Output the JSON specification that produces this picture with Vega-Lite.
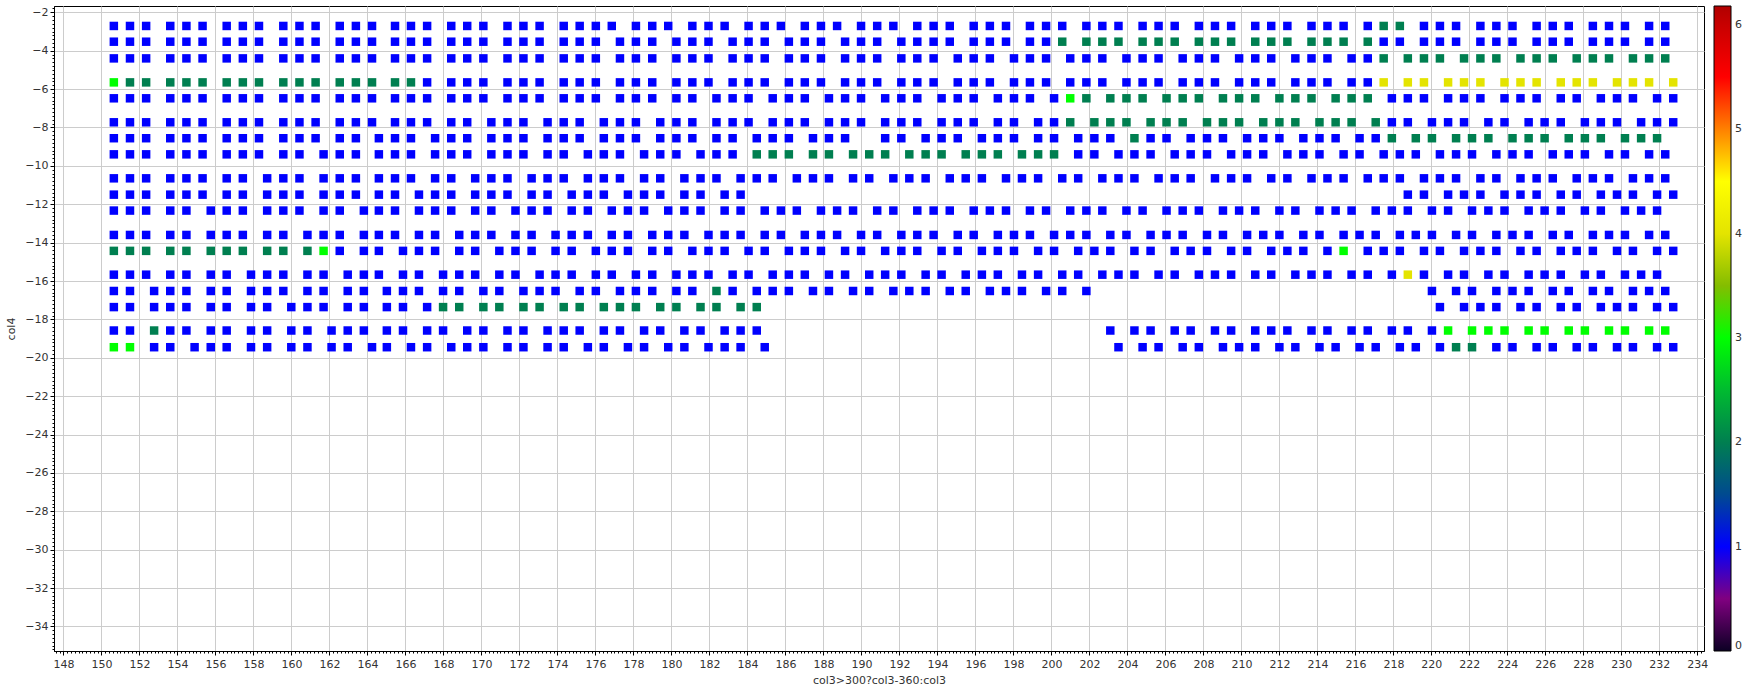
{
"$schema":"https://vega.github.io/schema/vega-lite/v6.json",
"autosize":{"type":"none"},
"padding":{"left":54,"top":6,"right":52,"bottom":41},
"width":1650,"height":645,
"background":"white",
"config":{"view":{"stroke":"black","strokeWidth":1},"font":"DejaVu Sans",
"axis":{"labelFont":"DejaVu Sans","labelFontSize":11,"labelColor":"#333333","titleFont":"DejaVu Sans","titleFontSize":11,"titleFontWeight":"normal","titleColor":"#333333","domainColor":"black","tickColor":"black","gridColor":"#cccccc","gridWidth":1}},
"datasets":{"pts":[
{"x":150.65,"y":-2.71,"v":1},{"x":151.50,"y":-2.71,"v":1},{"x":152.35,"y":-2.71,"v":1},{"x":153.62,"y":-2.71,"v":1},{"x":154.47,"y":-2.71,"v":1},{"x":155.32,"y":-2.71,"v":1},{"x":156.59,"y":-2.71,"v":1},{"x":157.44,"y":-2.71,"v":1},{"x":158.29,"y":-2.71,"v":1},{"x":159.57,"y":-2.71,"v":1},{"x":160.42,"y":-2.71,"v":1},{"x":161.27,"y":-2.71,"v":1},{"x":162.54,"y":-2.71,"v":1},{"x":163.39,"y":-2.71,"v":1},{"x":164.24,"y":-2.71,"v":1},
{"x":165.45,"y":-2.71,"v":1},{"x":166.29,"y":-2.71,"v":1},{"x":167.14,"y":-2.71,"v":1},{"x":168.41,"y":-2.71,"v":1},{"x":169.25,"y":-2.71,"v":1},{"x":170.10,"y":-2.71,"v":1},{"x":171.37,"y":-2.71,"v":1},{"x":172.21,"y":-2.71,"v":1},{"x":173.06,"y":-2.71,"v":1},{"x":174.33,"y":-2.71,"v":1},{"x":175.17,"y":-2.71,"v":1},{"x":176.02,"y":-2.71,"v":1},{"x":176.86,"y":-2.71,"v":1},{"x":178.13,"y":-2.71,"v":1},
{"x":178.99,"y":-2.71,"v":1},{"x":179.83,"y":-2.71,"v":1},{"x":181.10,"y":-2.71,"v":1},{"x":181.95,"y":-2.71,"v":1},{"x":182.80,"y":-2.71,"v":1},{"x":184.06,"y":-2.71,"v":1},{"x":184.91,"y":-2.71,"v":1},{"x":185.76,"y":-2.71,"v":1},{"x":187.02,"y":-2.71,"v":1},{"x":187.87,"y":-2.71,"v":1},{"x":188.72,"y":-2.71,"v":1},{"x":189.98,"y":-2.71,"v":1},{"x":190.83,"y":-2.71,"v":1},{"x":191.68,"y":-2.71,"v":1},{"x":192.94,"y":-2.71,"v":1},
{"x":193.80,"y":-2.71,"v":1},{"x":194.65,"y":-2.71,"v":1},{"x":195.91,"y":-2.71,"v":1},{"x":196.76,"y":-2.71,"v":1},{"x":197.61,"y":-2.71,"v":1},{"x":198.87,"y":-2.71,"v":1},{"x":199.72,"y":-2.71,"v":1},{"x":200.57,"y":-2.71,"v":1},{"x":201.84,"y":-2.71,"v":1},{"x":202.68,"y":-2.71,"v":1},{"x":203.53,"y":-2.71,"v":1},{"x":204.80,"y":-2.71,"v":1},{"x":205.64,"y":-2.71,"v":1},{"x":206.49,"y":-2.71,"v":1},{"x":207.76,"y":-2.71,"v":1},
{"x":208.61,"y":-2.71,"v":1},{"x":209.46,"y":-2.71,"v":1},{"x":210.73,"y":-2.71,"v":1},{"x":211.57,"y":-2.71,"v":1},{"x":212.42,"y":-2.71,"v":1},{"x":213.69,"y":-2.71,"v":1},{"x":214.53,"y":-2.71,"v":1},{"x":215.38,"y":-2.71,"v":1},{"x":216.65,"y":-2.71,"v":1},{"x":217.49,"y":-2.71,"v":2},{"x":218.34,"y":-2.71,"v":2},{"x":219.61,"y":-2.71,"v":1},{"x":220.45,"y":-2.71,"v":1},{"x":221.30,"y":-2.71,"v":1},
{"x":222.58,"y":-2.71,"v":1},{"x":223.42,"y":-2.71,"v":1},{"x":224.27,"y":-2.71,"v":1},{"x":225.54,"y":-2.71,"v":1},{"x":226.39,"y":-2.71,"v":1},{"x":227.23,"y":-2.71,"v":1},{"x":228.50,"y":-2.71,"v":1},{"x":229.35,"y":-2.71,"v":1},{"x":230.19,"y":-2.71,"v":1},{"x":231.46,"y":-2.71,"v":1},{"x":232.31,"y":-2.71,"v":1},

{"x":150.65,"y":-3.53,"v":1},{"x":151.50,"y":-3.53,"v":1},{"x":152.35,"y":-3.53,"v":1},{"x":153.62,"y":-3.53,"v":1},{"x":154.47,"y":-3.53,"v":1},{"x":155.32,"y":-3.53,"v":1},{"x":156.59,"y":-3.53,"v":1},{"x":157.44,"y":-3.53,"v":1},{"x":158.29,"y":-3.53,"v":1},{"x":159.57,"y":-3.53,"v":1},{"x":160.42,"y":-3.53,"v":1},{"x":161.27,"y":-3.53,"v":1},{"x":162.54,"y":-3.53,"v":1},{"x":163.39,"y":-3.53,"v":1},{"x":164.24,"y":-3.53,"v":1},
{"x":165.45,"y":-3.53,"v":1},{"x":166.29,"y":-3.53,"v":1},{"x":167.14,"y":-3.53,"v":1},{"x":168.41,"y":-3.53,"v":1},{"x":169.25,"y":-3.53,"v":1},{"x":170.10,"y":-3.53,"v":1},{"x":171.37,"y":-3.53,"v":1},{"x":172.21,"y":-3.53,"v":1},{"x":173.06,"y":-3.53,"v":1},{"x":174.33,"y":-3.53,"v":1},{"x":175.17,"y":-3.53,"v":1},{"x":176.02,"y":-3.53,"v":1},{"x":177.29,"y":-3.53,"v":1},{"x":178.13,"y":-3.53,"v":1},
{"x":178.99,"y":-3.53,"v":1},{"x":180.26,"y":-3.53,"v":1},{"x":181.10,"y":-3.53,"v":1},{"x":181.95,"y":-3.53,"v":1},{"x":183.22,"y":-3.53,"v":1},{"x":184.06,"y":-3.53,"v":1},{"x":184.91,"y":-3.53,"v":1},{"x":186.18,"y":-3.53,"v":1},{"x":187.02,"y":-3.53,"v":1},{"x":187.87,"y":-3.53,"v":1},{"x":189.14,"y":-3.53,"v":1},{"x":189.98,"y":-3.53,"v":1},{"x":190.83,"y":-3.53,"v":1},{"x":192.10,"y":-3.53,"v":1},{"x":192.94,"y":-3.53,"v":1},
{"x":193.80,"y":-3.53,"v":1},{"x":194.65,"y":-3.53,"v":1},{"x":195.91,"y":-3.53,"v":1},{"x":196.76,"y":-3.53,"v":1},{"x":197.61,"y":-3.53,"v":1},{"x":198.87,"y":-3.53,"v":1},{"x":199.72,"y":-3.53,"v":1},{"x":200.57,"y":-3.53,"v":2},{"x":201.84,"y":-3.53,"v":2},{"x":202.68,"y":-3.53,"v":2},{"x":203.53,"y":-3.53,"v":2},{"x":204.80,"y":-3.53,"v":2},{"x":205.64,"y":-3.53,"v":2},{"x":206.49,"y":-3.53,"v":2},{"x":207.76,"y":-3.53,"v":2},
{"x":208.61,"y":-3.53,"v":2},{"x":209.46,"y":-3.53,"v":2},{"x":210.73,"y":-3.53,"v":2},{"x":211.57,"y":-3.53,"v":2},{"x":212.42,"y":-3.53,"v":2},{"x":213.69,"y":-3.53,"v":2},{"x":214.53,"y":-3.53,"v":2},{"x":215.38,"y":-3.53,"v":2},{"x":216.65,"y":-3.53,"v":2},{"x":217.49,"y":-3.53,"v":1},{"x":218.34,"y":-3.53,"v":1},{"x":219.61,"y":-3.53,"v":1},{"x":220.45,"y":-3.53,"v":1},{"x":221.30,"y":-3.53,"v":1},
{"x":222.58,"y":-3.53,"v":1},{"x":223.42,"y":-3.53,"v":1},{"x":224.27,"y":-3.53,"v":1},{"x":225.54,"y":-3.53,"v":1},{"x":226.39,"y":-3.53,"v":1},{"x":227.23,"y":-3.53,"v":1},{"x":228.50,"y":-3.53,"v":1},{"x":229.35,"y":-3.53,"v":1},{"x":230.19,"y":-3.53,"v":1},{"x":231.46,"y":-3.53,"v":1},{"x":232.31,"y":-3.53,"v":1},

{"x":150.65,"y":-4.4,"v":1},{"x":151.50,"y":-4.4,"v":1},{"x":152.35,"y":-4.4,"v":1},{"x":153.62,"y":-4.4,"v":1},{"x":154.47,"y":-4.4,"v":1},{"x":155.32,"y":-4.4,"v":1},{"x":156.59,"y":-4.4,"v":1},{"x":157.44,"y":-4.4,"v":1},{"x":158.29,"y":-4.4,"v":1},{"x":159.57,"y":-4.4,"v":1},{"x":160.42,"y":-4.4,"v":1},{"x":161.27,"y":-4.4,"v":1},{"x":162.54,"y":-4.4,"v":1},{"x":163.39,"y":-4.4,"v":1},{"x":164.24,"y":-4.4,"v":1},
{"x":165.45,"y":-4.4,"v":1},{"x":166.29,"y":-4.4,"v":1},{"x":167.14,"y":-4.4,"v":1},{"x":168.41,"y":-4.4,"v":1},{"x":169.25,"y":-4.4,"v":1},{"x":170.10,"y":-4.4,"v":1},{"x":171.37,"y":-4.4,"v":1},{"x":172.21,"y":-4.4,"v":1},{"x":173.06,"y":-4.4,"v":1},{"x":174.33,"y":-4.4,"v":1},{"x":175.17,"y":-4.4,"v":1},{"x":176.02,"y":-4.4,"v":1},{"x":177.29,"y":-4.4,"v":1},{"x":178.13,"y":-4.4,"v":1},
{"x":178.99,"y":-4.4,"v":1},{"x":180.26,"y":-4.4,"v":1},{"x":181.10,"y":-4.4,"v":1},{"x":181.95,"y":-4.4,"v":1},{"x":183.22,"y":-4.4,"v":1},{"x":184.06,"y":-4.4,"v":1},{"x":184.91,"y":-4.4,"v":1},{"x":186.18,"y":-4.4,"v":1},{"x":187.02,"y":-4.4,"v":1},{"x":187.87,"y":-4.4,"v":1},{"x":189.14,"y":-4.4,"v":1},{"x":189.98,"y":-4.4,"v":1},{"x":190.83,"y":-4.4,"v":1},{"x":192.10,"y":-4.4,"v":1},{"x":192.94,"y":-4.4,"v":1},
{"x":193.80,"y":-4.4,"v":1},{"x":195.07,"y":-4.4,"v":1},{"x":195.91,"y":-4.4,"v":1},{"x":196.76,"y":-4.4,"v":1},{"x":198.03,"y":-4.4,"v":1},{"x":198.87,"y":-4.4,"v":1},{"x":199.72,"y":-4.4,"v":1},{"x":200.99,"y":-4.4,"v":1},{"x":201.84,"y":-4.4,"v":1},{"x":202.68,"y":-4.4,"v":1},{"x":203.95,"y":-4.4,"v":1},{"x":204.80,"y":-4.4,"v":1},{"x":205.64,"y":-4.4,"v":1},{"x":206.91,"y":-4.4,"v":1},{"x":207.76,"y":-4.4,"v":1},
{"x":208.61,"y":-4.4,"v":1},{"x":209.88,"y":-4.4,"v":1},{"x":210.73,"y":-4.4,"v":1},{"x":211.57,"y":-4.4,"v":1},{"x":212.84,"y":-4.4,"v":1},{"x":213.69,"y":-4.4,"v":1},{"x":214.53,"y":-4.4,"v":1},{"x":215.80,"y":-4.4,"v":1},{"x":216.65,"y":-4.4,"v":1},{"x":217.49,"y":-4.4,"v":2},{"x":218.76,"y":-4.4,"v":2},{"x":219.61,"y":-4.4,"v":2},{"x":220.45,"y":-4.4,"v":2},{"x":221.72,"y":-4.4,"v":2},
{"x":222.58,"y":-4.4,"v":2},{"x":223.42,"y":-4.4,"v":2},{"x":224.69,"y":-4.4,"v":2},{"x":225.54,"y":-4.4,"v":2},{"x":226.39,"y":-4.4,"v":2},{"x":227.65,"y":-4.4,"v":2},{"x":228.50,"y":-4.4,"v":2},{"x":229.35,"y":-4.4,"v":2},{"x":230.61,"y":-4.4,"v":2},{"x":231.46,"y":-4.4,"v":2},{"x":232.31,"y":-4.4,"v":2},

{"x":150.65,"y":-5.65,"v":3},{"x":151.50,"y":-5.65,"v":2},{"x":152.35,"y":-5.65,"v":2},{"x":153.62,"y":-5.65,"v":2},{"x":154.47,"y":-5.65,"v":2},{"x":155.32,"y":-5.65,"v":2},{"x":156.59,"y":-5.65,"v":2},{"x":157.44,"y":-5.65,"v":2},{"x":158.29,"y":-5.65,"v":2},{"x":159.57,"y":-5.65,"v":2},{"x":160.42,"y":-5.65,"v":2},{"x":161.27,"y":-5.65,"v":2},{"x":162.54,"y":-5.65,"v":2},{"x":163.39,"y":-5.65,"v":2},{"x":164.24,"y":-5.65,"v":2},
{"x":165.45,"y":-5.65,"v":2},{"x":166.29,"y":-5.65,"v":2},{"x":167.14,"y":-5.65,"v":1},{"x":168.41,"y":-5.65,"v":1},{"x":169.25,"y":-5.65,"v":1},{"x":170.10,"y":-5.65,"v":1},{"x":171.37,"y":-5.65,"v":1},{"x":172.21,"y":-5.65,"v":1},{"x":173.06,"y":-5.65,"v":1},{"x":174.33,"y":-5.65,"v":1},{"x":175.17,"y":-5.65,"v":1},{"x":176.02,"y":-5.65,"v":1},{"x":177.29,"y":-5.65,"v":1},{"x":178.13,"y":-5.65,"v":1},
{"x":178.99,"y":-5.65,"v":1},{"x":180.26,"y":-5.65,"v":1},{"x":181.10,"y":-5.65,"v":1},{"x":181.95,"y":-5.65,"v":1},{"x":183.22,"y":-5.65,"v":1},{"x":184.06,"y":-5.65,"v":1},{"x":184.91,"y":-5.65,"v":1},{"x":186.18,"y":-5.65,"v":1},{"x":187.02,"y":-5.65,"v":1},{"x":187.87,"y":-5.65,"v":1},{"x":189.14,"y":-5.65,"v":1},{"x":189.98,"y":-5.65,"v":1},{"x":190.83,"y":-5.65,"v":1},{"x":192.10,"y":-5.65,"v":1},{"x":192.94,"y":-5.65,"v":1},
{"x":193.80,"y":-5.65,"v":1},{"x":195.07,"y":-5.65,"v":1},{"x":195.91,"y":-5.65,"v":1},{"x":196.76,"y":-5.65,"v":1},{"x":198.03,"y":-5.65,"v":1},{"x":198.87,"y":-5.65,"v":1},{"x":199.72,"y":-5.65,"v":1},{"x":200.99,"y":-5.65,"v":1},{"x":201.84,"y":-5.65,"v":1},{"x":202.68,"y":-5.65,"v":1},{"x":203.95,"y":-5.65,"v":1},{"x":204.80,"y":-5.65,"v":1},{"x":205.64,"y":-5.65,"v":1},{"x":206.91,"y":-5.65,"v":1},{"x":207.76,"y":-5.65,"v":1},
{"x":208.61,"y":-5.65,"v":1},{"x":209.88,"y":-5.65,"v":1},{"x":210.73,"y":-5.65,"v":1},{"x":211.57,"y":-5.65,"v":1},{"x":212.84,"y":-5.65,"v":1},{"x":213.69,"y":-5.65,"v":1},{"x":214.53,"y":-5.65,"v":1},{"x":215.80,"y":-5.65,"v":1},{"x":216.65,"y":-5.65,"v":1},{"x":217.49,"y":-5.65,"v":4},{"x":218.76,"y":-5.65,"v":4},{"x":219.61,"y":-5.65,"v":4},{"x":220.88,"y":-5.65,"v":4},{"x":221.72,"y":-5.65,"v":4},
{"x":222.58,"y":-5.65,"v":4},{"x":223.85,"y":-5.65,"v":4},{"x":224.69,"y":-5.65,"v":4},{"x":225.54,"y":-5.65,"v":4},{"x":226.81,"y":-5.65,"v":4},{"x":227.65,"y":-5.65,"v":4},{"x":228.50,"y":-5.65,"v":4},{"x":229.77,"y":-5.65,"v":4},{"x":230.61,"y":-5.65,"v":4},{"x":231.46,"y":-5.65,"v":4},{"x":232.73,"y":-5.65,"v":4},

{"x":150.65,"y":-6.48,"v":1},{"x":151.50,"y":-6.48,"v":1},{"x":152.35,"y":-6.48,"v":1},{"x":153.62,"y":-6.48,"v":1},{"x":154.47,"y":-6.48,"v":1},{"x":155.32,"y":-6.48,"v":1},{"x":156.59,"y":-6.48,"v":1},{"x":157.44,"y":-6.48,"v":1},{"x":158.29,"y":-6.48,"v":1},{"x":159.57,"y":-6.48,"v":1},{"x":160.42,"y":-6.48,"v":1},{"x":161.27,"y":-6.48,"v":1},{"x":162.54,"y":-6.48,"v":1},{"x":163.39,"y":-6.48,"v":1},{"x":164.24,"y":-6.48,"v":1},
{"x":165.45,"y":-6.48,"v":1},{"x":166.29,"y":-6.48,"v":1},{"x":167.14,"y":-6.48,"v":1},{"x":168.41,"y":-6.48,"v":1},{"x":169.25,"y":-6.48,"v":1},{"x":170.10,"y":-6.48,"v":1},{"x":171.37,"y":-6.48,"v":1},{"x":172.21,"y":-6.48,"v":1},{"x":173.06,"y":-6.48,"v":1},{"x":174.33,"y":-6.48,"v":1},{"x":175.17,"y":-6.48,"v":1},{"x":176.02,"y":-6.48,"v":1},{"x":177.29,"y":-6.48,"v":1},{"x":178.13,"y":-6.48,"v":1},
{"x":178.99,"y":-6.48,"v":1},{"x":180.26,"y":-6.48,"v":1},{"x":181.10,"y":-6.48,"v":1},{"x":182.37,"y":-6.48,"v":1},{"x":183.22,"y":-6.48,"v":1},{"x":184.06,"y":-6.48,"v":1},{"x":185.33,"y":-6.48,"v":1},{"x":186.18,"y":-6.48,"v":1},{"x":187.02,"y":-6.48,"v":1},{"x":188.29,"y":-6.48,"v":1},{"x":189.14,"y":-6.48,"v":1},{"x":189.98,"y":-6.48,"v":1},{"x":191.25,"y":-6.48,"v":1},{"x":192.10,"y":-6.48,"v":1},{"x":192.94,"y":-6.48,"v":1},
{"x":194.22,"y":-6.48,"v":1},{"x":195.07,"y":-6.48,"v":1},{"x":195.91,"y":-6.48,"v":1},{"x":197.18,"y":-6.48,"v":1},{"x":198.03,"y":-6.48,"v":1},{"x":198.87,"y":-6.48,"v":1},{"x":200.14,"y":-6.48,"v":1},{"x":200.99,"y":-6.48,"v":3},{"x":201.84,"y":-6.48,"v":2},{"x":203.10,"y":-6.48,"v":2},{"x":203.95,"y":-6.48,"v":2},{"x":204.80,"y":-6.48,"v":2},{"x":206.06,"y":-6.48,"v":2},{"x":206.91,"y":-6.48,"v":2},{"x":207.76,"y":-6.48,"v":2},
{"x":209.03,"y":-6.48,"v":2},{"x":209.88,"y":-6.48,"v":2},{"x":210.73,"y":-6.48,"v":2},{"x":212.00,"y":-6.48,"v":2},{"x":212.84,"y":-6.48,"v":2},{"x":213.69,"y":-6.48,"v":2},{"x":214.96,"y":-6.48,"v":2},{"x":215.80,"y":-6.48,"v":2},{"x":216.65,"y":-6.48,"v":2},{"x":217.92,"y":-6.48,"v":1},{"x":218.76,"y":-6.48,"v":1},{"x":219.61,"y":-6.48,"v":1},{"x":220.88,"y":-6.48,"v":1},{"x":221.72,"y":-6.48,"v":1},
{"x":222.58,"y":-6.48,"v":1},{"x":223.85,"y":-6.48,"v":1},{"x":224.69,"y":-6.48,"v":1},{"x":225.54,"y":-6.48,"v":1},{"x":226.81,"y":-6.48,"v":1},{"x":227.65,"y":-6.48,"v":1},{"x":228.92,"y":-6.48,"v":1},{"x":229.77,"y":-6.48,"v":1},{"x":230.61,"y":-6.48,"v":1},{"x":231.88,"y":-6.48,"v":1},{"x":232.73,"y":-6.48,"v":1},

{"x":150.65,"y":-7.73,"v":1},{"x":151.50,"y":-7.73,"v":1},{"x":152.35,"y":-7.73,"v":1},{"x":153.62,"y":-7.73,"v":1},{"x":154.47,"y":-7.73,"v":1},{"x":155.32,"y":-7.73,"v":1},{"x":156.59,"y":-7.73,"v":1},{"x":157.44,"y":-7.73,"v":1},{"x":158.29,"y":-7.73,"v":1},{"x":159.57,"y":-7.73,"v":1},{"x":160.42,"y":-7.73,"v":1},{"x":161.27,"y":-7.73,"v":1},{"x":162.54,"y":-7.73,"v":1},{"x":163.39,"y":-7.73,"v":1},{"x":164.24,"y":-7.73,"v":1},
{"x":165.45,"y":-7.73,"v":1},{"x":166.29,"y":-7.73,"v":1},{"x":167.14,"y":-7.73,"v":1},{"x":168.41,"y":-7.73,"v":1},{"x":169.25,"y":-7.73,"v":1},{"x":170.52,"y":-7.73,"v":1},{"x":171.37,"y":-7.73,"v":1},{"x":172.21,"y":-7.73,"v":1},{"x":173.48,"y":-7.73,"v":1},{"x":174.33,"y":-7.73,"v":1},{"x":175.17,"y":-7.73,"v":1},{"x":176.44,"y":-7.73,"v":1},{"x":177.29,"y":-7.73,"v":1},{"x":178.13,"y":-7.73,"v":1},
{"x":179.41,"y":-7.73,"v":1},{"x":180.26,"y":-7.73,"v":1},{"x":181.10,"y":-7.73,"v":1},{"x":182.37,"y":-7.73,"v":1},{"x":183.22,"y":-7.73,"v":1},{"x":184.06,"y":-7.73,"v":1},{"x":185.33,"y":-7.73,"v":1},{"x":186.18,"y":-7.73,"v":1},{"x":187.02,"y":-7.73,"v":1},{"x":188.29,"y":-7.73,"v":1},{"x":189.14,"y":-7.73,"v":1},{"x":189.98,"y":-7.73,"v":1},{"x":191.25,"y":-7.73,"v":1},{"x":192.10,"y":-7.73,"v":1},{"x":192.94,"y":-7.73,"v":1},
{"x":194.22,"y":-7.73,"v":1},{"x":195.07,"y":-7.73,"v":1},{"x":195.91,"y":-7.73,"v":1},{"x":197.18,"y":-7.73,"v":1},{"x":198.03,"y":-7.73,"v":1},{"x":199.30,"y":-7.73,"v":1},{"x":200.14,"y":-7.73,"v":1},{"x":200.99,"y":-7.73,"v":2},{"x":202.26,"y":-7.73,"v":2},{"x":203.10,"y":-7.73,"v":2},{"x":203.95,"y":-7.73,"v":2},{"x":205.22,"y":-7.73,"v":2},{"x":206.06,"y":-7.73,"v":2},{"x":206.91,"y":-7.73,"v":2},
{"x":208.19,"y":-7.73,"v":2},{"x":209.03,"y":-7.73,"v":2},{"x":209.88,"y":-7.73,"v":2},{"x":211.15,"y":-7.73,"v":2},{"x":212.00,"y":-7.73,"v":2},{"x":212.84,"y":-7.73,"v":2},{"x":214.11,"y":-7.73,"v":2},{"x":214.96,"y":-7.73,"v":2},{"x":215.80,"y":-7.73,"v":2},{"x":217.07,"y":-7.73,"v":2},{"x":217.92,"y":-7.73,"v":1},{"x":218.76,"y":-7.73,"v":1},{"x":220.03,"y":-7.73,"v":1},{"x":220.88,"y":-7.73,"v":1},{"x":221.72,"y":-7.73,"v":1},
{"x":223.00,"y":-7.73,"v":1},{"x":223.85,"y":-7.73,"v":1},{"x":225.12,"y":-7.73,"v":1},{"x":225.96,"y":-7.73,"v":1},{"x":226.81,"y":-7.73,"v":1},{"x":228.08,"y":-7.73,"v":1},{"x":228.92,"y":-7.73,"v":1},{"x":229.77,"y":-7.73,"v":1},{"x":231.04,"y":-7.73,"v":1},{"x":231.88,"y":-7.73,"v":1},{"x":232.73,"y":-7.73,"v":1},

{"x":150.65,"y":-8.56,"v":1},{"x":151.50,"y":-8.56,"v":1},{"x":152.35,"y":-8.56,"v":1},{"x":153.62,"y":-8.56,"v":1},{"x":154.47,"y":-8.56,"v":1},{"x":155.32,"y":-8.56,"v":1},{"x":156.59,"y":-8.56,"v":1},{"x":157.44,"y":-8.56,"v":1},{"x":158.29,"y":-8.56,"v":1},{"x":159.57,"y":-8.56,"v":1},{"x":160.42,"y":-8.56,"v":1},{"x":161.27,"y":-8.56,"v":1},{"x":162.54,"y":-8.56,"v":1},{"x":163.39,"y":-8.56,"v":1},
{"x":164.60,"y":-8.56,"v":1},{"x":165.45,"y":-8.56,"v":1},{"x":166.29,"y":-8.56,"v":1},{"x":167.56,"y":-8.56,"v":1},{"x":168.41,"y":-8.56,"v":1},{"x":169.25,"y":-8.56,"v":1},{"x":170.52,"y":-8.56,"v":1},{"x":171.37,"y":-8.56,"v":1},{"x":172.21,"y":-8.56,"v":1},{"x":173.48,"y":-8.56,"v":1},{"x":174.33,"y":-8.56,"v":1},{"x":175.17,"y":-8.56,"v":1},{"x":176.44,"y":-8.56,"v":1},{"x":177.29,"y":-8.56,"v":1},{"x":178.13,"y":-8.56,"v":1},
{"x":179.41,"y":-8.56,"v":1},{"x":180.26,"y":-8.56,"v":1},{"x":181.10,"y":-8.56,"v":1},{"x":182.37,"y":-8.56,"v":1},{"x":183.22,"y":-8.56,"v":1},{"x":184.49,"y":-8.56,"v":1},{"x":185.33,"y":-8.56,"v":1},{"x":186.18,"y":-8.56,"v":1},{"x":187.45,"y":-8.56,"v":1},{"x":188.29,"y":-8.56,"v":1},{"x":189.14,"y":-8.56,"v":1},{"x":191.25,"y":-8.56,"v":1},{"x":192.10,"y":-8.56,"v":1},
{"x":193.38,"y":-8.56,"v":1},{"x":194.22,"y":-8.56,"v":1},{"x":195.07,"y":-8.56,"v":1},{"x":196.34,"y":-8.56,"v":1},{"x":197.18,"y":-8.56,"v":1},{"x":198.03,"y":-8.56,"v":1},{"x":199.30,"y":-8.56,"v":1},{"x":200.14,"y":-8.56,"v":1},{"x":201.41,"y":-8.56,"v":1},{"x":202.26,"y":-8.56,"v":1},{"x":203.10,"y":-8.56,"v":1},{"x":204.37,"y":-8.56,"v":2},{"x":205.22,"y":-8.56,"v":1},{"x":206.06,"y":-8.56,"v":1},{"x":207.33,"y":-8.56,"v":1},
{"x":208.19,"y":-8.56,"v":1},{"x":209.03,"y":-8.56,"v":1},{"x":210.30,"y":-8.56,"v":1},{"x":211.15,"y":-8.56,"v":1},{"x":212.00,"y":-8.56,"v":1},{"x":213.26,"y":-8.56,"v":1},{"x":214.11,"y":-8.56,"v":1},{"x":214.96,"y":-8.56,"v":1},{"x":216.22,"y":-8.56,"v":1},{"x":217.07,"y":-8.56,"v":1},{"x":217.92,"y":-8.56,"v":2},{"x":219.18,"y":-8.56,"v":2},{"x":220.03,"y":-8.56,"v":2},{"x":221.30,"y":-8.56,"v":2},{"x":222.14,"y":-8.56,"v":2},
{"x":223.00,"y":-8.56,"v":2},{"x":224.27,"y":-8.56,"v":2},{"x":225.12,"y":-8.56,"v":2},{"x":225.96,"y":-8.56,"v":2},{"x":227.23,"y":-8.56,"v":2},{"x":228.08,"y":-8.56,"v":2},{"x":228.92,"y":-8.56,"v":2},{"x":230.19,"y":-8.56,"v":2},{"x":231.04,"y":-8.56,"v":2},{"x":231.88,"y":-8.56,"v":2},

{"x":150.65,"y":-9.4,"v":1},{"x":151.50,"y":-9.4,"v":1},{"x":152.35,"y":-9.4,"v":1},{"x":153.62,"y":-9.4,"v":1},{"x":154.47,"y":-9.4,"v":1},{"x":155.32,"y":-9.4,"v":1},{"x":156.59,"y":-9.4,"v":1},{"x":157.44,"y":-9.4,"v":1},{"x":158.29,"y":-9.4,"v":1},{"x":159.57,"y":-9.4,"v":1},{"x":160.42,"y":-9.4,"v":1},{"x":161.69,"y":-9.4,"v":1},{"x":162.54,"y":-9.4,"v":1},{"x":163.39,"y":-9.4,"v":1},
{"x":164.60,"y":-9.4,"v":1},{"x":165.45,"y":-9.4,"v":1},{"x":166.29,"y":-9.4,"v":1},{"x":167.56,"y":-9.4,"v":1},{"x":168.41,"y":-9.4,"v":1},{"x":169.25,"y":-9.4,"v":1},{"x":170.52,"y":-9.4,"v":1},{"x":171.37,"y":-9.4,"v":1},{"x":172.21,"y":-9.4,"v":1},{"x":173.48,"y":-9.4,"v":1},{"x":174.33,"y":-9.4,"v":1},{"x":175.60,"y":-9.4,"v":1},{"x":176.44,"y":-9.4,"v":1},{"x":177.29,"y":-9.4,"v":1},{"x":178.56,"y":-9.4,"v":1},
{"x":179.41,"y":-9.4,"v":1},{"x":180.26,"y":-9.4,"v":1},{"x":181.53,"y":-9.4,"v":1},{"x":182.37,"y":-9.4,"v":1},{"x":183.22,"y":-9.4,"v":1},{"x":184.49,"y":-9.4,"v":2},{"x":185.33,"y":-9.4,"v":2},{"x":186.18,"y":-9.4,"v":2},{"x":187.45,"y":-9.4,"v":2},{"x":188.29,"y":-9.4,"v":2},{"x":189.56,"y":-9.4,"v":2},{"x":190.41,"y":-9.4,"v":2},{"x":191.25,"y":-9.4,"v":2},{"x":192.52,"y":-9.4,"v":2},
{"x":193.38,"y":-9.4,"v":2},{"x":194.22,"y":-9.4,"v":2},{"x":195.49,"y":-9.4,"v":2},{"x":196.34,"y":-9.4,"v":2},{"x":197.18,"y":-9.4,"v":2},{"x":198.45,"y":-9.4,"v":2},{"x":199.30,"y":-9.4,"v":2},{"x":200.14,"y":-9.4,"v":2},{"x":201.41,"y":-9.4,"v":1},{"x":202.26,"y":-9.4,"v":1},{"x":203.53,"y":-9.4,"v":1},{"x":204.37,"y":-9.4,"v":1},{"x":205.22,"y":-9.4,"v":1},{"x":206.49,"y":-9.4,"v":1},{"x":207.33,"y":-9.4,"v":1},
{"x":208.19,"y":-9.4,"v":1},{"x":209.46,"y":-9.4,"v":1},{"x":210.30,"y":-9.4,"v":1},{"x":211.15,"y":-9.4,"v":1},{"x":212.42,"y":-9.4,"v":1},{"x":213.26,"y":-9.4,"v":1},{"x":214.11,"y":-9.4,"v":1},{"x":215.38,"y":-9.4,"v":1},{"x":216.22,"y":-9.4,"v":1},{"x":217.49,"y":-9.4,"v":1},{"x":218.34,"y":-9.4,"v":1},{"x":219.18,"y":-9.4,"v":1},{"x":220.45,"y":-9.4,"v":1},{"x":221.30,"y":-9.4,"v":1},{"x":222.14,"y":-9.4,"v":1},
{"x":223.42,"y":-9.4,"v":1},{"x":224.27,"y":-9.4,"v":1},{"x":225.12,"y":-9.4,"v":1},{"x":226.39,"y":-9.4,"v":1},{"x":227.23,"y":-9.4,"v":1},{"x":228.08,"y":-9.4,"v":1},{"x":229.35,"y":-9.4,"v":1},{"x":230.19,"y":-9.4,"v":1},{"x":231.46,"y":-9.4,"v":1},{"x":232.31,"y":-9.4,"v":1},

{"x":150.65,"y":-10.65,"v":1},{"x":151.50,"y":-10.65,"v":1},{"x":152.35,"y":-10.65,"v":1},{"x":153.62,"y":-10.65,"v":1},{"x":154.47,"y":-10.65,"v":1},{"x":155.32,"y":-10.65,"v":1},{"x":156.59,"y":-10.65,"v":1},{"x":157.44,"y":-10.65,"v":1},{"x":158.72,"y":-10.65,"v":1},{"x":159.57,"y":-10.65,"v":1},{"x":160.42,"y":-10.65,"v":1},{"x":161.69,"y":-10.65,"v":1},{"x":162.54,"y":-10.65,"v":1},{"x":163.39,"y":-10.65,"v":1},
{"x":164.60,"y":-10.65,"v":1},{"x":165.45,"y":-10.65,"v":1},{"x":166.29,"y":-10.65,"v":1},{"x":167.56,"y":-10.65,"v":1},{"x":168.41,"y":-10.65,"v":1},{"x":169.67,"y":-10.65,"v":1},{"x":170.52,"y":-10.65,"v":1},{"x":171.37,"y":-10.65,"v":1},{"x":172.64,"y":-10.65,"v":1},{"x":173.48,"y":-10.65,"v":1},{"x":174.33,"y":-10.65,"v":1},{"x":175.60,"y":-10.65,"v":1},{"x":176.44,"y":-10.65,"v":1},{"x":177.29,"y":-10.65,"v":1},{"x":178.56,"y":-10.65,"v":1},
{"x":179.41,"y":-10.65,"v":1},{"x":180.68,"y":-10.65,"v":1},{"x":181.53,"y":-10.65,"v":1},{"x":182.37,"y":-10.65,"v":1},{"x":183.64,"y":-10.65,"v":1},{"x":184.49,"y":-10.65,"v":1},{"x":185.33,"y":-10.65,"v":1},{"x":186.60,"y":-10.65,"v":1},{"x":187.45,"y":-10.65,"v":1},{"x":188.29,"y":-10.65,"v":1},{"x":189.56,"y":-10.65,"v":1},{"x":190.41,"y":-10.65,"v":1},{"x":191.68,"y":-10.65,"v":1},{"x":192.52,"y":-10.65,"v":1},
{"x":193.38,"y":-10.65,"v":1},{"x":194.65,"y":-10.65,"v":1},{"x":195.49,"y":-10.65,"v":1},{"x":196.34,"y":-10.65,"v":1},{"x":197.61,"y":-10.65,"v":1},{"x":198.45,"y":-10.65,"v":1},{"x":199.30,"y":-10.65,"v":1},{"x":200.57,"y":-10.65,"v":1},{"x":201.41,"y":-10.65,"v":1},{"x":202.68,"y":-10.65,"v":1},{"x":203.53,"y":-10.65,"v":1},{"x":204.37,"y":-10.65,"v":1},{"x":205.64,"y":-10.65,"v":1},{"x":206.49,"y":-10.65,"v":1},{"x":207.33,"y":-10.65,"v":1},
{"x":208.61,"y":-10.65,"v":1},{"x":209.46,"y":-10.65,"v":1},{"x":210.30,"y":-10.65,"v":1},{"x":211.57,"y":-10.65,"v":1},{"x":212.42,"y":-10.65,"v":1},{"x":213.69,"y":-10.65,"v":1},{"x":214.53,"y":-10.65,"v":1},{"x":215.38,"y":-10.65,"v":1},{"x":216.65,"y":-10.65,"v":1},{"x":217.49,"y":-10.65,"v":1},{"x":218.34,"y":-10.65,"v":1},{"x":219.61,"y":-10.65,"v":1},{"x":220.45,"y":-10.65,"v":1},{"x":221.30,"y":-10.65,"v":1},
{"x":222.58,"y":-10.65,"v":1},{"x":223.42,"y":-10.65,"v":1},{"x":224.69,"y":-10.65,"v":1},{"x":225.54,"y":-10.65,"v":1},{"x":226.39,"y":-10.65,"v":1},{"x":227.65,"y":-10.65,"v":1},{"x":228.50,"y":-10.65,"v":1},{"x":229.35,"y":-10.65,"v":1},{"x":230.61,"y":-10.65,"v":1},{"x":231.46,"y":-10.65,"v":1},{"x":232.31,"y":-10.65,"v":1},

{"x":150.65,"y":-11.5,"v":1},{"x":151.50,"y":-11.5,"v":1},{"x":152.35,"y":-11.5,"v":1},{"x":153.62,"y":-11.5,"v":1},{"x":154.47,"y":-11.5,"v":1},{"x":155.32,"y":-11.5,"v":1},{"x":156.59,"y":-11.5,"v":1},{"x":157.44,"y":-11.5,"v":1},{"x":158.72,"y":-11.5,"v":1},{"x":159.57,"y":-11.5,"v":1},{"x":160.42,"y":-11.5,"v":1},{"x":161.69,"y":-11.5,"v":1},{"x":162.54,"y":-11.5,"v":1},{"x":163.39,"y":-11.5,"v":1},
{"x":164.60,"y":-11.5,"v":1},{"x":165.45,"y":-11.5,"v":1},{"x":166.71,"y":-11.5,"v":1},{"x":167.56,"y":-11.5,"v":1},{"x":168.41,"y":-11.5,"v":1},{"x":169.67,"y":-11.5,"v":1},{"x":170.52,"y":-11.5,"v":1},{"x":171.37,"y":-11.5,"v":1},{"x":172.64,"y":-11.5,"v":1},{"x":173.48,"y":-11.5,"v":1},{"x":174.75,"y":-11.5,"v":1},{"x":175.60,"y":-11.5,"v":1},{"x":176.44,"y":-11.5,"v":1},{"x":177.71,"y":-11.5,"v":1},{"x":178.56,"y":-11.5,"v":1},
{"x":179.41,"y":-11.5,"v":1},{"x":180.68,"y":-11.5,"v":1},{"x":181.53,"y":-11.5,"v":1},{"x":182.80,"y":-11.5,"v":1},{"x":183.64,"y":-11.5,"v":1},
{"x":218.76,"y":-11.5,"v":1},{"x":219.61,"y":-11.5,"v":1},{"x":220.88,"y":-11.5,"v":1},{"x":221.72,"y":-11.5,"v":1},
{"x":222.58,"y":-11.5,"v":1},{"x":223.85,"y":-11.5,"v":1},{"x":224.69,"y":-11.5,"v":1},{"x":225.54,"y":-11.5,"v":1},{"x":226.81,"y":-11.5,"v":1},{"x":227.65,"y":-11.5,"v":1},{"x":228.92,"y":-11.5,"v":1},{"x":229.77,"y":-11.5,"v":1},{"x":230.61,"y":-11.5,"v":1},{"x":231.88,"y":-11.5,"v":1},{"x":232.73,"y":-11.5,"v":1},

{"x":150.65,"y":-12.33,"v":1},{"x":151.50,"y":-12.33,"v":1},{"x":152.35,"y":-12.33,"v":1},{"x":153.62,"y":-12.33,"v":1},{"x":154.47,"y":-12.33,"v":1},{"x":155.75,"y":-12.33,"v":1},{"x":156.59,"y":-12.33,"v":1},{"x":157.44,"y":-12.33,"v":1},{"x":158.72,"y":-12.33,"v":1},{"x":159.57,"y":-12.33,"v":1},{"x":160.42,"y":-12.33,"v":1},{"x":161.69,"y":-12.33,"v":1},{"x":162.54,"y":-12.33,"v":1},{"x":163.81,"y":-12.33,"v":1},
{"x":164.60,"y":-12.33,"v":1},{"x":165.45,"y":-12.33,"v":1},{"x":166.71,"y":-12.33,"v":1},{"x":167.56,"y":-12.33,"v":1},{"x":168.41,"y":-12.33,"v":1},{"x":169.67,"y":-12.33,"v":1},{"x":170.52,"y":-12.33,"v":1},{"x":171.79,"y":-12.33,"v":1},{"x":172.64,"y":-12.33,"v":1},{"x":173.48,"y":-12.33,"v":1},{"x":174.75,"y":-12.33,"v":1},{"x":175.60,"y":-12.33,"v":1},{"x":176.86,"y":-12.33,"v":1},{"x":177.71,"y":-12.33,"v":1},{"x":178.56,"y":-12.33,"v":1},
{"x":179.83,"y":-12.33,"v":1},{"x":180.68,"y":-12.33,"v":1},{"x":181.53,"y":-12.33,"v":1},{"x":182.80,"y":-12.33,"v":1},{"x":183.64,"y":-12.33,"v":1},{"x":184.91,"y":-12.33,"v":1},{"x":185.76,"y":-12.33,"v":1},{"x":186.60,"y":-12.33,"v":1},{"x":187.87,"y":-12.33,"v":1},{"x":188.72,"y":-12.33,"v":1},{"x":189.56,"y":-12.33,"v":1},{"x":190.83,"y":-12.33,"v":1},{"x":191.68,"y":-12.33,"v":1},{"x":192.94,"y":-12.33,"v":1},
{"x":193.80,"y":-12.33,"v":1},{"x":194.65,"y":-12.33,"v":1},{"x":195.91,"y":-12.33,"v":1},{"x":196.76,"y":-12.33,"v":1},{"x":197.61,"y":-12.33,"v":1},{"x":198.87,"y":-12.33,"v":1},{"x":199.72,"y":-12.33,"v":1},{"x":200.99,"y":-12.33,"v":1},{"x":201.84,"y":-12.33,"v":1},{"x":202.68,"y":-12.33,"v":1},{"x":203.95,"y":-12.33,"v":1},{"x":204.80,"y":-12.33,"v":1},{"x":206.06,"y":-12.33,"v":1},{"x":206.91,"y":-12.33,"v":1},{"x":207.76,"y":-12.33,"v":1},
{"x":209.03,"y":-12.33,"v":1},{"x":209.88,"y":-12.33,"v":1},{"x":210.73,"y":-12.33,"v":1},{"x":212.00,"y":-12.33,"v":1},{"x":212.84,"y":-12.33,"v":1},{"x":214.11,"y":-12.33,"v":1},{"x":214.96,"y":-12.33,"v":1},{"x":215.80,"y":-12.33,"v":1},{"x":217.07,"y":-12.33,"v":1},{"x":217.92,"y":-12.33,"v":1},{"x":218.76,"y":-12.33,"v":1},{"x":220.03,"y":-12.33,"v":1},{"x":220.88,"y":-12.33,"v":1},{"x":222.14,"y":-12.33,"v":1},
{"x":223.00,"y":-12.33,"v":1},{"x":223.85,"y":-12.33,"v":1},{"x":225.12,"y":-12.33,"v":1},{"x":225.96,"y":-12.33,"v":1},{"x":226.81,"y":-12.33,"v":1},{"x":228.08,"y":-12.33,"v":1},{"x":228.92,"y":-12.33,"v":1},{"x":230.19,"y":-12.33,"v":1},{"x":231.04,"y":-12.33,"v":1},{"x":231.88,"y":-12.33,"v":1},

{"x":150.65,"y":-13.6,"v":1},{"x":151.50,"y":-13.6,"v":1},{"x":152.35,"y":-13.6,"v":1},{"x":153.62,"y":-13.6,"v":1},{"x":154.47,"y":-13.6,"v":1},{"x":155.75,"y":-13.6,"v":1},{"x":156.59,"y":-13.6,"v":1},{"x":157.44,"y":-13.6,"v":1},{"x":158.72,"y":-13.6,"v":1},{"x":159.57,"y":-13.6,"v":1},{"x":160.84,"y":-13.6,"v":1},{"x":161.69,"y":-13.6,"v":1},{"x":162.54,"y":-13.6,"v":1},{"x":163.81,"y":-13.6,"v":1},
{"x":164.60,"y":-13.6,"v":1},{"x":165.45,"y":-13.6,"v":1},{"x":166.71,"y":-13.6,"v":1},{"x":167.56,"y":-13.6,"v":1},{"x":168.83,"y":-13.6,"v":1},{"x":169.67,"y":-13.6,"v":1},{"x":170.52,"y":-13.6,"v":1},{"x":171.79,"y":-13.6,"v":1},{"x":172.64,"y":-13.6,"v":1},{"x":173.90,"y":-13.6,"v":1},{"x":174.75,"y":-13.6,"v":1},{"x":175.60,"y":-13.6,"v":1},{"x":176.86,"y":-13.6,"v":1},{"x":177.71,"y":-13.6,"v":1},
{"x":178.99,"y":-13.6,"v":1},{"x":179.83,"y":-13.6,"v":1},{"x":180.68,"y":-13.6,"v":1},{"x":181.95,"y":-13.6,"v":1},{"x":182.80,"y":-13.6,"v":1},{"x":183.64,"y":-13.6,"v":1},{"x":184.91,"y":-13.6,"v":1},{"x":185.76,"y":-13.6,"v":1},{"x":187.02,"y":-13.6,"v":1},{"x":187.87,"y":-13.6,"v":1},{"x":188.72,"y":-13.6,"v":1},{"x":189.98,"y":-13.6,"v":1},{"x":190.83,"y":-13.6,"v":1},{"x":192.10,"y":-13.6,"v":1},{"x":192.94,"y":-13.6,"v":1},
{"x":193.80,"y":-13.6,"v":1},{"x":195.07,"y":-13.6,"v":1},{"x":195.91,"y":-13.6,"v":1},{"x":197.18,"y":-13.6,"v":1},{"x":198.03,"y":-13.6,"v":1},{"x":198.87,"y":-13.6,"v":1},{"x":200.14,"y":-13.6,"v":1},{"x":200.99,"y":-13.6,"v":1},{"x":201.84,"y":-13.6,"v":1},{"x":203.10,"y":-13.6,"v":1},{"x":203.95,"y":-13.6,"v":1},{"x":205.22,"y":-13.6,"v":1},{"x":206.06,"y":-13.6,"v":1},{"x":206.91,"y":-13.6,"v":1},
{"x":208.19,"y":-13.6,"v":1},{"x":209.03,"y":-13.6,"v":1},{"x":210.30,"y":-13.6,"v":1},{"x":211.15,"y":-13.6,"v":1},{"x":212.00,"y":-13.6,"v":1},{"x":213.26,"y":-13.6,"v":1},{"x":214.11,"y":-13.6,"v":1},{"x":215.38,"y":-13.6,"v":1},{"x":216.22,"y":-13.6,"v":1},{"x":217.07,"y":-13.6,"v":1},{"x":218.34,"y":-13.6,"v":1},{"x":219.18,"y":-13.6,"v":1},{"x":220.03,"y":-13.6,"v":1},{"x":221.30,"y":-13.6,"v":1},{"x":222.14,"y":-13.6,"v":1},
{"x":223.42,"y":-13.6,"v":1},{"x":224.27,"y":-13.6,"v":1},{"x":225.12,"y":-13.6,"v":1},{"x":226.39,"y":-13.6,"v":1},{"x":227.23,"y":-13.6,"v":1},{"x":228.50,"y":-13.6,"v":1},{"x":229.35,"y":-13.6,"v":1},{"x":230.19,"y":-13.6,"v":1},{"x":231.46,"y":-13.6,"v":1},{"x":232.31,"y":-13.6,"v":1},

{"x":150.65,"y":-14.43,"v":2},{"x":151.50,"y":-14.43,"v":2},{"x":152.35,"y":-14.43,"v":2},{"x":153.62,"y":-14.43,"v":2},{"x":154.47,"y":-14.43,"v":2},{"x":155.75,"y":-14.43,"v":2},{"x":156.59,"y":-14.43,"v":2},{"x":157.44,"y":-14.43,"v":2},{"x":158.72,"y":-14.43,"v":2},{"x":159.57,"y":-14.43,"v":2},{"x":160.84,"y":-14.43,"v":2},{"x":161.69,"y":-14.43,"v":3},{"x":162.54,"y":-14.43,"v":1},{"x":163.81,"y":-14.43,"v":1},
{"x":164.60,"y":-14.43,"v":1},{"x":165.87,"y":-14.43,"v":1},{"x":166.71,"y":-14.43,"v":1},{"x":167.56,"y":-14.43,"v":1},{"x":168.83,"y":-14.43,"v":1},{"x":169.67,"y":-14.43,"v":1},{"x":170.94,"y":-14.43,"v":1},{"x":171.79,"y":-14.43,"v":1},{"x":172.64,"y":-14.43,"v":1},{"x":173.90,"y":-14.43,"v":1},{"x":174.75,"y":-14.43,"v":1},{"x":176.02,"y":-14.43,"v":1},{"x":176.86,"y":-14.43,"v":1},{"x":177.71,"y":-14.43,"v":1},
{"x":178.99,"y":-14.43,"v":1},{"x":179.83,"y":-14.43,"v":1},{"x":181.10,"y":-14.43,"v":1},{"x":181.95,"y":-14.43,"v":1},{"x":182.80,"y":-14.43,"v":1},{"x":184.06,"y":-14.43,"v":1},{"x":184.91,"y":-14.43,"v":1},{"x":186.18,"y":-14.43,"v":1},{"x":187.02,"y":-14.43,"v":1},{"x":187.87,"y":-14.43,"v":1},{"x":189.14,"y":-14.43,"v":1},{"x":189.98,"y":-14.43,"v":1},{"x":191.25,"y":-14.43,"v":1},{"x":192.10,"y":-14.43,"v":1},{"x":192.94,"y":-14.43,"v":1},
{"x":194.22,"y":-14.43,"v":1},{"x":195.07,"y":-14.43,"v":1},{"x":196.34,"y":-14.43,"v":1},{"x":197.18,"y":-14.43,"v":1},{"x":198.03,"y":-14.43,"v":1},{"x":199.30,"y":-14.43,"v":1},{"x":200.14,"y":-14.43,"v":1},{"x":201.41,"y":-14.43,"v":1},{"x":202.26,"y":-14.43,"v":1},{"x":203.10,"y":-14.43,"v":1},{"x":204.37,"y":-14.43,"v":1},{"x":205.22,"y":-14.43,"v":1},{"x":206.49,"y":-14.43,"v":1},{"x":207.33,"y":-14.43,"v":1},
{"x":208.19,"y":-14.43,"v":1},{"x":209.46,"y":-14.43,"v":1},{"x":210.30,"y":-14.43,"v":1},{"x":211.57,"y":-14.43,"v":1},{"x":212.42,"y":-14.43,"v":1},{"x":213.26,"y":-14.43,"v":1},{"x":214.53,"y":-14.43,"v":1},{"x":215.38,"y":-14.43,"v":3},{"x":216.65,"y":-14.43,"v":1},{"x":217.49,"y":-14.43,"v":1},{"x":218.34,"y":-14.43,"v":1},{"x":219.61,"y":-14.43,"v":1},{"x":220.45,"y":-14.43,"v":1},{"x":221.72,"y":-14.43,"v":1},
{"x":222.58,"y":-14.43,"v":1},{"x":223.42,"y":-14.43,"v":1},{"x":224.69,"y":-14.43,"v":1},{"x":225.54,"y":-14.43,"v":1},{"x":226.81,"y":-14.43,"v":1},{"x":227.65,"y":-14.43,"v":1},{"x":228.50,"y":-14.43,"v":1},{"x":229.77,"y":-14.43,"v":1},{"x":230.61,"y":-14.43,"v":1},{"x":231.88,"y":-14.43,"v":1},{"x":232.73,"y":-14.43,"v":1},

{"x":150.65,"y":-15.67,"v":1},{"x":151.50,"y":-15.67,"v":1},{"x":152.35,"y":-15.67,"v":1},{"x":153.62,"y":-15.67,"v":1},{"x":154.47,"y":-15.67,"v":1},{"x":155.75,"y":-15.67,"v":1},{"x":156.59,"y":-15.67,"v":1},{"x":157.87,"y":-15.67,"v":1},{"x":158.72,"y":-15.67,"v":1},{"x":159.57,"y":-15.67,"v":1},{"x":160.84,"y":-15.67,"v":1},{"x":161.69,"y":-15.67,"v":1},{"x":162.96,"y":-15.67,"v":1},{"x":163.81,"y":-15.67,"v":1},
{"x":164.60,"y":-15.67,"v":1},{"x":165.87,"y":-15.67,"v":1},{"x":166.71,"y":-15.67,"v":1},{"x":167.98,"y":-15.67,"v":1},{"x":168.83,"y":-15.67,"v":1},{"x":169.67,"y":-15.67,"v":1},{"x":170.94,"y":-15.67,"v":1},{"x":171.79,"y":-15.67,"v":1},{"x":173.06,"y":-15.67,"v":1},{"x":173.90,"y":-15.67,"v":1},{"x":174.75,"y":-15.67,"v":1},{"x":176.02,"y":-15.67,"v":1},{"x":176.86,"y":-15.67,"v":1},{"x":178.13,"y":-15.67,"v":1},
{"x":178.99,"y":-15.67,"v":1},{"x":180.26,"y":-15.67,"v":1},{"x":181.10,"y":-15.67,"v":1},{"x":181.95,"y":-15.67,"v":1},{"x":183.22,"y":-15.67,"v":1},{"x":184.06,"y":-15.67,"v":1},{"x":185.33,"y":-15.67,"v":1},{"x":186.18,"y":-15.67,"v":1},{"x":187.02,"y":-15.67,"v":1},{"x":188.29,"y":-15.67,"v":1},{"x":189.14,"y":-15.67,"v":1},{"x":190.41,"y":-15.67,"v":1},{"x":191.25,"y":-15.67,"v":1},{"x":192.10,"y":-15.67,"v":1},
{"x":193.38,"y":-15.67,"v":1},{"x":194.22,"y":-15.67,"v":1},{"x":195.49,"y":-15.67,"v":1},{"x":196.34,"y":-15.67,"v":1},{"x":197.18,"y":-15.67,"v":1},{"x":198.45,"y":-15.67,"v":1},{"x":199.30,"y":-15.67,"v":1},{"x":200.57,"y":-15.67,"v":1},{"x":201.41,"y":-15.67,"v":1},{"x":202.68,"y":-15.67,"v":1},{"x":203.53,"y":-15.67,"v":1},{"x":204.37,"y":-15.67,"v":1},{"x":205.64,"y":-15.67,"v":1},{"x":206.49,"y":-15.67,"v":1},{"x":207.76,"y":-15.67,"v":1},
{"x":208.61,"y":-15.67,"v":1},{"x":209.46,"y":-15.67,"v":1},{"x":210.73,"y":-15.67,"v":1},{"x":211.57,"y":-15.67,"v":1},{"x":212.84,"y":-15.67,"v":1},{"x":213.69,"y":-15.67,"v":1},{"x":214.53,"y":-15.67,"v":1},{"x":215.80,"y":-15.67,"v":1},{"x":216.65,"y":-15.67,"v":1},{"x":217.92,"y":-15.67,"v":1},{"x":218.76,"y":-15.67,"v":4},{"x":219.61,"y":-15.67,"v":1},{"x":220.88,"y":-15.67,"v":1},{"x":221.72,"y":-15.67,"v":1},
{"x":223.00,"y":-15.67,"v":1},{"x":223.85,"y":-15.67,"v":1},{"x":225.12,"y":-15.67,"v":1},{"x":225.96,"y":-15.67,"v":1},{"x":226.81,"y":-15.67,"v":1},{"x":228.08,"y":-15.67,"v":1},{"x":228.92,"y":-15.67,"v":1},{"x":230.19,"y":-15.67,"v":1},{"x":231.04,"y":-15.67,"v":1},{"x":231.88,"y":-15.67,"v":1},

{"x":150.65,"y":-16.52,"v":1},{"x":151.50,"y":-16.52,"v":1},{"x":152.77,"y":-16.52,"v":1},{"x":153.62,"y":-16.52,"v":1},{"x":154.47,"y":-16.52,"v":1},{"x":155.75,"y":-16.52,"v":1},{"x":156.59,"y":-16.52,"v":1},{"x":157.87,"y":-16.52,"v":1},{"x":158.72,"y":-16.52,"v":1},{"x":159.57,"y":-16.52,"v":1},{"x":160.84,"y":-16.52,"v":1},{"x":161.69,"y":-16.52,"v":1},{"x":162.96,"y":-16.52,"v":1},{"x":163.81,"y":-16.52,"v":1},
{"x":165.02,"y":-16.52,"v":1},{"x":165.87,"y":-16.52,"v":1},{"x":166.71,"y":-16.52,"v":1},{"x":167.98,"y":-16.52,"v":1},{"x":168.83,"y":-16.52,"v":1},{"x":170.10,"y":-16.52,"v":1},{"x":170.94,"y":-16.52,"v":1},{"x":172.21,"y":-16.52,"v":1},{"x":173.06,"y":-16.52,"v":1},{"x":173.90,"y":-16.52,"v":1},{"x":175.17,"y":-16.52,"v":1},{"x":176.02,"y":-16.52,"v":1},{"x":177.29,"y":-16.52,"v":1},{"x":178.13,"y":-16.52,"v":1},
{"x":178.99,"y":-16.52,"v":1},{"x":180.26,"y":-16.52,"v":1},{"x":181.10,"y":-16.52,"v":1},{"x":182.37,"y":-16.52,"v":2},{"x":183.22,"y":-16.52,"v":1},{"x":184.49,"y":-16.52,"v":1},{"x":185.33,"y":-16.52,"v":1},{"x":186.18,"y":-16.52,"v":1},{"x":187.45,"y":-16.52,"v":1},{"x":188.29,"y":-16.52,"v":1},{"x":189.56,"y":-16.52,"v":1},{"x":190.41,"y":-16.52,"v":1},{"x":191.68,"y":-16.52,"v":1},{"x":192.52,"y":-16.52,"v":1},
{"x":193.38,"y":-16.52,"v":1},{"x":194.65,"y":-16.52,"v":1},{"x":195.49,"y":-16.52,"v":1},{"x":196.76,"y":-16.52,"v":1},{"x":197.61,"y":-16.52,"v":1},{"x":198.45,"y":-16.52,"v":1},{"x":199.72,"y":-16.52,"v":1},{"x":200.57,"y":-16.52,"v":1},{"x":201.84,"y":-16.52,"v":1},
{"x":220.03,"y":-16.52,"v":1},{"x":221.30,"y":-16.52,"v":1},{"x":222.14,"y":-16.52,"v":1},
{"x":223.42,"y":-16.52,"v":1},{"x":224.27,"y":-16.52,"v":1},{"x":225.12,"y":-16.52,"v":1},{"x":226.39,"y":-16.52,"v":1},{"x":227.23,"y":-16.52,"v":1},{"x":228.50,"y":-16.52,"v":1},{"x":229.35,"y":-16.52,"v":1},{"x":230.61,"y":-16.52,"v":1},{"x":231.46,"y":-16.52,"v":1},{"x":232.31,"y":-16.52,"v":1},

{"x":150.65,"y":-17.36,"v":1},{"x":151.50,"y":-17.36,"v":1},{"x":152.77,"y":-17.36,"v":1},{"x":153.62,"y":-17.36,"v":1},{"x":154.47,"y":-17.36,"v":1},{"x":155.75,"y":-17.36,"v":1},{"x":156.59,"y":-17.36,"v":1},{"x":157.87,"y":-17.36,"v":1},{"x":158.72,"y":-17.36,"v":1},{"x":159.99,"y":-17.36,"v":1},{"x":160.84,"y":-17.36,"v":1},{"x":161.69,"y":-17.36,"v":1},{"x":162.96,"y":-17.36,"v":1},{"x":163.81,"y":-17.36,"v":1},
{"x":165.02,"y":-17.36,"v":1},{"x":165.87,"y":-17.36,"v":1},{"x":167.14,"y":-17.36,"v":1},{"x":167.98,"y":-17.36,"v":2},{"x":168.83,"y":-17.36,"v":2},{"x":170.10,"y":-17.36,"v":2},{"x":170.94,"y":-17.36,"v":2},{"x":172.21,"y":-17.36,"v":2},{"x":173.06,"y":-17.36,"v":2},{"x":174.33,"y":-17.36,"v":2},{"x":175.17,"y":-17.36,"v":2},{"x":176.44,"y":-17.36,"v":2},{"x":177.29,"y":-17.36,"v":2},{"x":178.13,"y":-17.36,"v":2},
{"x":179.41,"y":-17.36,"v":2},{"x":180.26,"y":-17.36,"v":2},{"x":181.53,"y":-17.36,"v":2},{"x":182.37,"y":-17.36,"v":2},{"x":183.64,"y":-17.36,"v":2},{"x":184.49,"y":-17.36,"v":2},
{"x":220.45,"y":-17.36,"v":1},{"x":221.72,"y":-17.36,"v":1},
{"x":222.58,"y":-17.36,"v":1},{"x":223.42,"y":-17.36,"v":1},{"x":224.69,"y":-17.36,"v":1},{"x":225.54,"y":-17.36,"v":1},{"x":226.81,"y":-17.36,"v":1},{"x":227.65,"y":-17.36,"v":1},{"x":228.92,"y":-17.36,"v":1},{"x":229.77,"y":-17.36,"v":1},{"x":230.61,"y":-17.36,"v":1},{"x":231.88,"y":-17.36,"v":1},{"x":232.73,"y":-17.36,"v":1},

{"x":150.65,"y":-18.58,"v":1},{"x":151.50,"y":-18.58,"v":1},{"x":152.77,"y":-18.58,"v":2},{"x":153.62,"y":-18.58,"v":1},{"x":154.47,"y":-18.58,"v":1},{"x":155.75,"y":-18.58,"v":1},{"x":156.59,"y":-18.58,"v":1},{"x":157.87,"y":-18.58,"v":1},{"x":158.72,"y":-18.58,"v":1},{"x":159.99,"y":-18.58,"v":1},{"x":160.84,"y":-18.58,"v":1},{"x":162.11,"y":-18.58,"v":1},{"x":162.96,"y":-18.58,"v":1},{"x":163.81,"y":-18.58,"v":1},
{"x":165.02,"y":-18.58,"v":1},{"x":165.87,"y":-18.58,"v":1},{"x":167.14,"y":-18.58,"v":1},{"x":167.98,"y":-18.58,"v":1},{"x":169.25,"y":-18.58,"v":1},{"x":170.10,"y":-18.58,"v":1},{"x":171.37,"y":-18.58,"v":1},{"x":172.21,"y":-18.58,"v":1},{"x":173.48,"y":-18.58,"v":1},{"x":174.33,"y":-18.58,"v":1},{"x":175.17,"y":-18.58,"v":1},{"x":176.44,"y":-18.58,"v":1},{"x":177.29,"y":-18.58,"v":1},{"x":178.56,"y":-18.58,"v":1},
{"x":179.41,"y":-18.58,"v":1},{"x":180.68,"y":-18.58,"v":1},{"x":181.53,"y":-18.58,"v":1},{"x":182.80,"y":-18.58,"v":1},{"x":183.64,"y":-18.58,"v":1},{"x":184.49,"y":-18.58,"v":1},
{"x":203.10,"y":-18.58,"v":1},{"x":204.37,"y":-18.58,"v":1},{"x":205.22,"y":-18.58,"v":1},{"x":206.49,"y":-18.58,"v":1},{"x":207.33,"y":-18.58,"v":1},
{"x":208.61,"y":-18.58,"v":1},{"x":209.46,"y":-18.58,"v":1},{"x":210.73,"y":-18.58,"v":1},{"x":211.57,"y":-18.58,"v":1},{"x":212.42,"y":-18.58,"v":1},{"x":213.69,"y":-18.58,"v":1},{"x":214.53,"y":-18.58,"v":1},{"x":215.80,"y":-18.58,"v":1},{"x":216.65,"y":-18.58,"v":1},{"x":217.92,"y":-18.58,"v":1},{"x":218.76,"y":-18.58,"v":1},{"x":220.03,"y":-18.58,"v":1},{"x":220.88,"y":-18.58,"v":3},{"x":222.14,"y":-18.58,"v":3},
{"x":223.00,"y":-18.58,"v":3},{"x":223.85,"y":-18.58,"v":3},{"x":225.12,"y":-18.58,"v":3},{"x":225.96,"y":-18.58,"v":3},{"x":227.23,"y":-18.58,"v":3},{"x":228.08,"y":-18.58,"v":3},{"x":229.35,"y":-18.58,"v":3},{"x":230.19,"y":-18.58,"v":3},{"x":231.46,"y":-18.58,"v":3},{"x":232.31,"y":-18.58,"v":3},

{"x":150.65,"y":-19.45,"v":3},{"x":151.50,"y":-19.45,"v":3},{"x":152.77,"y":-19.45,"v":1},{"x":153.62,"y":-19.45,"v":1},{"x":154.90,"y":-19.45,"v":1},{"x":155.75,"y":-19.45,"v":1},{"x":156.59,"y":-19.45,"v":1},{"x":157.87,"y":-19.45,"v":1},{"x":158.72,"y":-19.45,"v":1},{"x":159.99,"y":-19.45,"v":1},{"x":160.84,"y":-19.45,"v":1},{"x":162.11,"y":-19.45,"v":1},{"x":162.96,"y":-19.45,"v":1},{"x":164.24,"y":-19.45,"v":1},
{"x":165.02,"y":-19.45,"v":1},{"x":166.29,"y":-19.45,"v":1},{"x":167.14,"y":-19.45,"v":1},{"x":168.41,"y":-19.45,"v":1},{"x":169.25,"y":-19.45,"v":1},{"x":170.10,"y":-19.45,"v":1},{"x":171.37,"y":-19.45,"v":1},{"x":172.21,"y":-19.45,"v":1},{"x":173.48,"y":-19.45,"v":1},{"x":174.33,"y":-19.45,"v":1},{"x":175.60,"y":-19.45,"v":1},{"x":176.44,"y":-19.45,"v":1},{"x":177.71,"y":-19.45,"v":1},{"x":178.56,"y":-19.45,"v":1},
{"x":179.83,"y":-19.45,"v":1},{"x":180.68,"y":-19.45,"v":1},{"x":181.95,"y":-19.45,"v":1},{"x":182.80,"y":-19.45,"v":1},{"x":183.64,"y":-19.45,"v":1},{"x":184.91,"y":-19.45,"v":1},
{"x":203.53,"y":-19.45,"v":1},{"x":204.80,"y":-19.45,"v":1},{"x":205.64,"y":-19.45,"v":1},{"x":206.91,"y":-19.45,"v":1},{"x":207.76,"y":-19.45,"v":1},
{"x":209.03,"y":-19.45,"v":1},{"x":209.88,"y":-19.45,"v":1},{"x":210.73,"y":-19.45,"v":1},{"x":212.00,"y":-19.45,"v":1},{"x":212.84,"y":-19.45,"v":1},{"x":214.11,"y":-19.45,"v":1},{"x":214.96,"y":-19.45,"v":1},{"x":216.22,"y":-19.45,"v":1},{"x":217.07,"y":-19.45,"v":1},{"x":218.34,"y":-19.45,"v":1},{"x":219.18,"y":-19.45,"v":1},{"x":220.45,"y":-19.45,"v":1},{"x":221.30,"y":-19.45,"v":2},{"x":222.14,"y":-19.45,"v":2},
{"x":223.42,"y":-19.45,"v":1},{"x":224.27,"y":-19.45,"v":1},{"x":225.54,"y":-19.45,"v":1},{"x":226.39,"y":-19.45,"v":1},{"x":227.65,"y":-19.45,"v":1},{"x":228.50,"y":-19.45,"v":1},{"x":229.77,"y":-19.45,"v":1},{"x":230.61,"y":-19.45,"v":1},{"x":231.88,"y":-19.45,"v":1},{"x":232.73,"y":-19.45,"v":1}
]},
"data":{"name":"pts"},
"layer":[
{"mark":{"type":"square","size":72,"filled":true,"opacity":1},
"encoding":{
"x":{"field":"x","type":"quantitative","scale":{"domain":[147.5,234.35],"nice":false,"zero":false},
"axis":{"title":"col3>300?col3-360:col3","values":[148,150,152,154,156,158,160,162,164,166,168,170,172,174,176,178,180,182,184,186,188,190,192,194,196,198,200,202,204,206,208,210,212,214,216,218,220,222,224,226,228,230,232,234],"grid":true,"tickSize":4,"labelPadding":3,"titlePadding":5,"labelFlush":false}},
"y":{"field":"y","type":"quantitative","scale":{"domain":[-35.28,-1.67],"nice":false,"zero":false},
"axis":{"title":"col4","values":[-34,-32,-30,-28,-26,-24,-22,-20,-18,-16,-14,-12,-10,-8,-6,-4,-2],"grid":true,"tickSize":4,"labelPadding":2,"titlePadding":8,"labelFlush":false}},
"color":{"field":"v","type":"quantitative",
"scale":{"domain":[0,0.5,1,1.5,2,2.5,3,3.6,4,4.5,5,5.5,6,6.18],"range":["#0c0024","#800080","#0000ff","#004a90","#007f50","#00bb30","#00ff00","#88b000","#e4e400","#ffff00","#ff8000","#ff0000","#c80000","#b00000"]},
"legend":{"type":"gradient","title":null,"orient":"right","direction":"vertical","gradientLength":645,"gradientThickness":17,"offset":10,"padding":0,"values":[0,1,2,3,4,5,6],"format":"d","labelOverlap":false,"labelFontSize":11,"labelFont":"DejaVu Sans","labelColor":"#333333","labelOffset":4,"gradientStrokeColor":"black","gradientStrokeWidth":1}}
}},
{"mark":{"type":"point","opacity":0},
"encoding":{
"x":{"field":"x","type":"quantitative","axis":{"orient":"bottom","title":null,"labels":false,"grid":false,"domain":false,"tickCount":434,"tickSize":2}},
"y":{"field":"y","type":"quantitative","axis":{"orient":"left","title":null,"labels":false,"grid":false,"domain":false,"tickCount":168,"tickSize":2}}
}}
],
"resolve":{"axis":{"x":"independent","y":"independent"}}
}
